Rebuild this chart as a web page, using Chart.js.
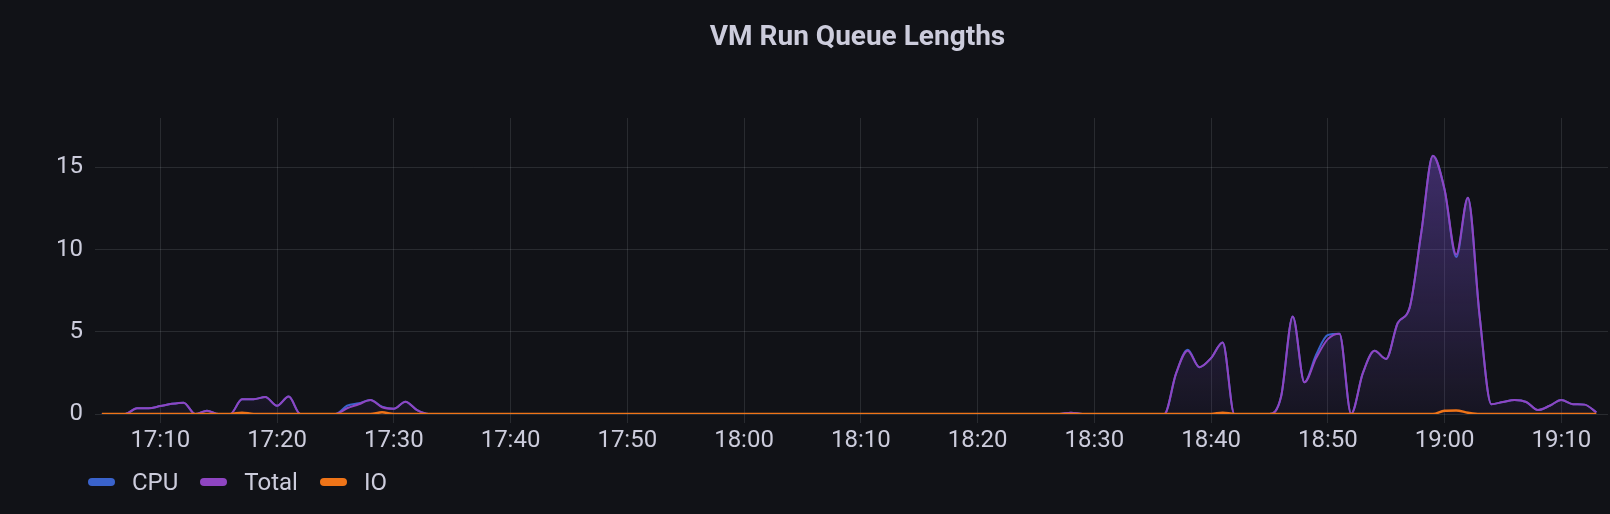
<!DOCTYPE html>
<html lang="en">
<head>
    <meta charset="UTF-8">
    <title>VM Run Queue Lengths</title>
    <script src="https://cdn.jsdelivr.net/npm/chart.js"></script>
    <style>
        html, body {
            margin: 0;
            padding: 0;
            background-color: #111217;
            overflow: hidden;
        }
        .panel {
            position: relative;
            width: 1610px;
            height: 514px;
            font-family: Roboto, "Noto Sans", sans-serif;
            color: #ccccdc;
        }
        #title {
            position: absolute;
            left: 105px;
            width: 1505px;
            top: 22px;
            text-align: center;
            font-size: 28px;
            line-height: 28px;
            font-weight: bold;
        }
        #legend {
            position: absolute;
            left: 88px;
            top: 470px;
            display: flex;
            align-items: center;
            font-size: 24px;
            line-height: 24px;
        }
        .legend-item {
            display: flex;
            align-items: center;
            margin-right: 22px;
        }
        .swatch {
            width: 27px;
            height: 8px;
            border-radius: 4px;
            margin-right: 17px;
        }
        canvas {
            position: absolute;
            left: 0;
            top: 0;
        }
    </style>
</head>
<body>
    <div class="panel">
        <canvas id="queueChart" width="1610" height="514"></canvas>
        <div id="title">VM Run Queue Lengths</div>
        <div id="legend"></div>
    </div>

    <script>
        // samples are one minute apart, first one at 17:05 (minutes counted from 17:00)
        const firstSample = 5;
        const sampleStep = 1;

        // 17:05 .. 19:13
        const totalQueue = [
            0, 0, 0, 0.35, 0.35,
            0.48, 0.62, 0.69, 0, 0.2, 0, 0, 0.9, 0.9, 1.03,
            0.5, 1.06, 0, 0, 0, 0, 0.35, 0.59, 0.85, 0.41,
            0.32, 0.75, 0.24, 0, 0, 0, 0, 0, 0, 0,
            0, 0, 0, 0, 0, 0, 0, 0, 0, 0,
            0, 0, 0, 0, 0, 0, 0, 0, 0, 0,
            0, 0, 0, 0, 0, 0, 0, 0, 0, 0,
            0, 0, 0, 0, 0, 0, 0, 0, 0, 0,
            0, 0, 0, 0, 0, 0, 0, 0, 0.08, 0,
            0, 0, 0, 0, 0, 0, 0, 2.45, 3.85, 2.85,
            3.4, 4.35, 0, 0, 0, 0, 1.06, 5.93, 1.93, 3.4,
            4.55, 4.88, 0, 2.48, 3.84, 3.35, 5.55, 6.44, 11.0, 15.7,
            13.66, 9.7, 13.15, 6.0, 0.6, 0.73, 0.85, 0.73, 0.24, 0.5,
            0.85, 0.6, 0.57, 0.1
        ];

        const cpuQueue = [
            0, 0, 0, 0.35, 0.35,
            0.48, 0.62, 0.69, 0, 0.2, 0, 0, 0.9, 0.9, 1.03,
            0.5, 1.06, 0, 0, 0, 0, 0.5, 0.65, 0.85, 0.45,
            0.32, 0.75, 0.24, 0, 0, 0, 0, 0, 0, 0,
            0, 0, 0, 0, 0, 0, 0, 0, 0, 0,
            0, 0, 0, 0, 0, 0, 0, 0, 0, 0,
            0, 0, 0, 0, 0, 0, 0, 0, 0, 0,
            0, 0, 0, 0, 0, 0, 0, 0, 0, 0,
            0, 0, 0, 0, 0, 0, 0, 0, 0.08, 0,
            0, 0, 0, 0, 0, 0, 0, 2.45, 3.9, 2.85,
            3.4, 4.35, 0, 0, 0, 0, 1.06, 5.93, 1.93, 3.6,
            4.8, 4.88, 0, 2.48, 3.84, 3.35, 5.55, 6.44, 11.0, 15.7,
            13.66, 9.55, 13.15, 6.0, 0.6, 0.73, 0.85, 0.73, 0.24, 0.5,
            0.85, 0.6, 0.57, 0.1
        ];

        const ioQueue = [
            0, 0, 0, 0, 0,
            0, 0, 0, 0, 0, 0, 0, 0.08, 0, 0,
            0, 0, 0, 0, 0, 0, 0, 0, 0, 0.1,
            0, 0, 0, 0, 0, 0, 0, 0, 0, 0,
            0, 0, 0, 0, 0, 0, 0, 0, 0, 0,
            0, 0, 0, 0, 0, 0, 0, 0, 0, 0,
            0, 0, 0, 0, 0, 0, 0, 0, 0, 0,
            0, 0, 0, 0, 0, 0, 0, 0, 0, 0,
            0, 0, 0, 0, 0, 0, 0, 0, 0, 0,
            0, 0, 0, 0, 0, 0, 0, 0, 0, 0,
            0, 0.08, 0, 0, 0, 0, 0, 0, 0, 0,
            0, 0, 0, 0, 0, 0, 0, 0, 0, 0,
            0.2, 0.22, 0.08, 0, 0, 0, 0, 0, 0, 0,
            0, 0, 0, 0
        ];

        const yTicks = [0, 5, 10, 15];
        const seriesNames = ['CPU', 'Total', 'IO'];
        const seriesColors = ['#3a63cc', '#8f45c2', '#ef7418'];

        const textColor = '#ccccdc';
        const gridColor = 'rgba(240, 250, 255, 0.11)';

        function toPoints(values) {
            return values.map((v, i) => ({ x: firstSample + i * sampleStep, y: v }));
        }

        function clockLabel(minutes) {
            const h = 17 + Math.floor(minutes / 60);
            const m = minutes % 60;
            return h + ':' + String(m).padStart(2, '0');
        }

        // Grafana style opacity gradient under the Total series
        function totalFill(context) {
            const chart = context.chart;
            if (!chart.chartArea) return 'rgba(0,0,0,0)';
            const yScale = chart.scales.y;
            const top = yScale.getPixelForValue(Math.max(...totalQueue));
            const bottom = yScale.getPixelForValue(0);
            const g = chart.ctx.createLinearGradient(0, top, 0, bottom);
            g.addColorStop(0, 'rgba(120, 80, 210, 0.44)');
            g.addColorStop(1, 'rgba(120, 80, 210, 0.06)');
            return g;
        }

        Chart.defaults.font.family = 'Roboto, "Noto Sans", sans-serif';
        Chart.defaults.font.size = 24;
        Chart.defaults.color = textColor;

        const ctx = document.getElementById('queueChart').getContext('2d');
        const chart = new Chart(ctx, {
            type: 'line',
            data: {
                datasets: [
                    {
                        label: seriesNames[0],
                        data: toPoints(cpuQueue),
                        borderColor: seriesColors[0],
                        borderWidth: 2,
                        fill: false,
                        order: 2
                    },
                    {
                        label: seriesNames[1],
                        data: toPoints(totalQueue),
                        borderColor: seriesColors[1],
                        backgroundColor: totalFill,
                        borderWidth: 2,
                        fill: 'origin',
                        order: 1
                    },
                    {
                        label: seriesNames[2],
                        data: toPoints(ioQueue),
                        borderColor: seriesColors[2],
                        borderWidth: 2.5,
                        fill: false,
                        order: 0
                    }
                ]
            },
            options: {
                responsive: false,
                animation: false,
                events: [],
                layout: {
                    padding: { top: 118, left: 0, right: 2, bottom: 0 }
                },
                elements: {
                    point: { radius: 0 },
                    line: { cubicInterpolationMode: 'monotone' }
                },
                plugins: {
                    legend: { display: false },
                    title: { display: false },
                    tooltip: { enabled: false }
                },
                scales: {
                    x: {
                        type: 'linear',
                        min: 4.41,
                        max: 134,
                        border: { display: false },
                        grid: {
                            color: gridColor,
                            drawTicks: true,
                            tickLength: 9
                        },
                        ticks: {
                            stepSize: 10,
                            includeBounds: false,
                            autoSkip: false,
                            maxRotation: 0,
                            padding: 4,
                            callback: (v) => clockLabel(v)
                        },
                        afterFit: (scale) => { scale.height = 100; }
                    },
                    y: {
                        min: 0,
                        max: 18,
                        border: { display: false },
                        grid: {
                            color: gridColor,
                            drawTicks: false
                        },
                        afterBuildTicks: (scale) => {
                            scale.ticks = yTicks.map(v => ({ value: v }));
                        },
                        ticks: {
                            padding: 12
                        },
                        afterFit: (scale) => { scale.width = 95; }
                    }
                }
            }
        });

        // legend in the Grafana style, left aligned under the plot
        const legend = document.getElementById('legend');
        seriesNames.forEach((name, i) => {
            const item = document.createElement('div');
            item.className = 'legend-item';
            const sw = document.createElement('span');
            sw.className = 'swatch';
            sw.style.backgroundColor = seriesColors[i];
            const label = document.createElement('span');
            label.textContent = name;
            item.appendChild(sw);
            item.appendChild(label);
            legend.appendChild(item);
        });
    </script>
</body>
</html>
